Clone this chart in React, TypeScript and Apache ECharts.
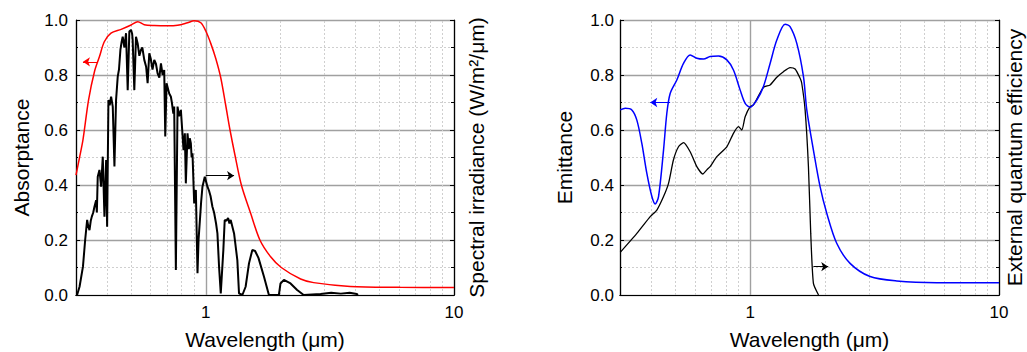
import React, { useEffect, useRef } from "react";
import * as echarts from "echarts";

// ---------- data (wavelength in µm, normalized value) ----------
const absorptance: [number, number][] = [
  [0.3, 0.436], [0.31, 0.5], [0.32, 0.564], [0.337, 0.709], [0.356, 0.812], [0.373, 0.867],
  [0.39, 0.921], [0.415, 0.952], [0.456, 0.966], [0.5, 0.982], [0.532, 0.994], [0.565, 0.983],
  [0.62, 0.98], [0.7, 0.979], [0.77, 0.981], [0.844, 0.99], [0.898, 0.997], [0.955, 0.99],
  [1.0, 0.96], [1.047, 0.915], [1.097, 0.86], [1.149, 0.79], [1.203, 0.69], [1.252, 0.6],
  [1.31, 0.51], [1.391, 0.4], [1.516, 0.297], [1.652, 0.2], [1.825, 0.139], [2.014, 0.1],
  [2.41, 0.058], [2.72, 0.045], [3.82, 0.031], [6.07, 0.028], [10, 0.027],
];

const solarSpectrum: [number, number][] = [
  [0.303, 0], [0.31, 0.03], [0.32, 0.103], [0.3266, 0.2], [0.3327, 0.273], [0.336, 0.25], [0.34, 0.236],
  [0.344, 0.27], [0.3474, 0.285], [0.352, 0.3], [0.356, 0.321], [0.3616, 0.345], [0.364, 0.3], [0.367, 0.43],
  [0.3729, 0.455], [0.3787, 0.394], [0.3846, 0.503], [0.3906, 0.285], [0.3967, 0.491], [0.4004, 0.248],
  [0.4053, 0.709], [0.41, 0.69], [0.4155, 0.721], [0.4219, 0.685], [0.4285, 0.467], [0.435, 0.709],
  [0.4418, 0.794], [0.447, 0.82], [0.4529, 0.891], [0.458, 0.92], [0.4627, 0.939], [0.47, 0.9],
  [0.4772, 0.952], [0.4846, 0.745], [0.4921, 0.958], [0.4997, 0.964], [0.505, 0.95], [0.5075, 0.927],
  [0.5153, 0.745], [0.5234, 0.939], [0.5315, 0.915], [0.54, 0.87], [0.548, 0.891], [0.555, 0.9],
  [0.5652, 0.855], [0.575, 0.83], [0.583, 0.77], [0.592, 0.879], [0.6, 0.86], [0.61, 0.82],
  [0.62, 0.855], [0.63, 0.84], [0.6395, 0.806], [0.65, 0.79], [0.6597, 0.842], [0.67, 0.8],
  [0.68, 0.818], [0.6866, 0.576], [0.695, 0.77], [0.7123, 0.733], [0.7235, 0.721], [0.73, 0.7],
  [0.74, 0.66], [0.746, 0.685], [0.7576, 0.091], [0.7695, 0.685], [0.78, 0.65], [0.7936, 0.673],
  [0.8135, 0.527], [0.8235, 0.588], [0.831, 0.406], [0.8441, 0.588], [0.855, 0.53], [0.862, 0.57],
  [0.8706, 0.552], [0.877, 0.5], [0.884, 0.515], [0.898, 0.333], [0.912, 0.382], [0.926, 0.079],
  [0.935, 0.2], [0.949, 0.285], [0.958, 0.34], [0.9696, 0.394], [0.9908, 0.43], [1.0155, 0.394],
  [1.03, 0.38], [1.045, 0.36], [1.0636, 0.321], [1.08, 0.3], [1.1, 0.26], [1.114, 0.224],
  [1.131, 0.103], [1.149, 0.006], [1.177, 0.164], [1.192, 0.273], [1.21, 0.27], [1.23, 0.28],
  [1.245, 0.26], [1.26, 0.273], [1.3, 0.224], [1.34, 0.127], [1.361, 0.006], [1.404, 0],
  [1.447, 0.03], [1.493, 0.115], [1.54, 0.164], [1.58, 0.16], [1.63, 0.135], [1.715, 0.067],
  [1.796, 0], [1.97, 0], [2.0, 0.042], [2.064, 0.055], [2.195, 0.042], [2.334, 0.018],
  [2.48, 0], [2.9, 0.004], [3.2, 0.008], [3.5, 0.005], [3.8, 0.008], [4.06, 0.004], [4.1, 0],
];

const emittance: [number, number][] = [
  [0.3006, 0.673], [0.315, 0.679], [0.3347, 0.673], [0.3506, 0.636], [0.367, 0.552], [0.3846, 0.442],
  [0.4029, 0.358], [0.4155, 0.331], [0.4285, 0.358], [0.4488, 0.527], [0.4627, 0.661], [0.4772, 0.733],
  [0.5075, 0.782], [0.5398, 0.842], [0.5742, 0.873], [0.6107, 0.861], [0.6496, 0.858], [0.6908, 0.867],
  [0.7463, 0.869], [0.806, 0.855], [0.857, 0.818], [0.912, 0.745], [0.955, 0.697], [1.0, 0.683],
  [1.064, 0.709], [1.131, 0.758], [1.203, 0.842], [1.28, 0.927], [1.382, 0.985], [1.447, 0.976],
  [1.54, 0.915], [1.638, 0.794], [1.689, 0.673], [1.796, 0.527], [1.91, 0.394], [2.032, 0.297],
  [2.228, 0.188], [2.521, 0.115], [3.033, 0.067], [3.882, 0.051], [5.62, 0.045], [10, 0.045],
];

const quantumEfficiency: [number, number][] = [
  [0.3006, 0.155], [0.3506, 0.224], [0.3967, 0.285], [0.4219, 0.309], [0.4488, 0.358], [0.47, 0.406],
  [0.4918, 0.491], [0.5154, 0.539], [0.5398, 0.554], [0.5742, 0.521], [0.6107, 0.467], [0.6457, 0.44],
  [0.6695, 0.455], [0.6908, 0.467], [0.7347, 0.503], [0.806, 0.539], [0.857, 0.588], [0.8977, 0.612],
  [0.926, 0.6], [0.955, 0.648], [1.0, 0.685], [1.031, 0.691], [1.131, 0.755], [1.203, 0.764],
  [1.28, 0.792], [1.361, 0.812], [1.447, 0.827], [1.516, 0.822], [1.588, 0.788], [1.612, 0.77],
  [1.663, 0.673], [1.715, 0.467], [1.752, 0.224], [1.796, 0.042], [1.883, 0],
];

// arrows: [fromX, toX, y]
const absorptanceArrow = [0.367, 0.32, 0.848];
const spectrumArrow = [1.0, 1.3, 0.434];
const emittanceArrow = [0.477, 0.397, 0.7];
const eqeArrow = [1.796, 2.06, 0.103];

const minorGridX = [0.4, 0.5, 0.6, 0.7, 0.8, 0.9, 2, 3, 4, 5, 6, 7, 8, 9];
const yTicks = { min: 0, max: 1, interval: 0.2 };
const xRange = { min: 0.3, max: 10 };

const FONT = "'Liberation Sans', Arial, sans-serif";

export default function App() {
  const ref = useRef<HTMLDivElement>(null);
  useEffect(() => {
    document.body.style.margin = "0";
    const chart = echarts.init(ref.current!, undefined, { renderer: "svg" });

    const xBottom = (gi: number) => ({
      type: "log",
      gridIndex: gi,
      min: xRange.min,
      max: xRange.max,
      logBase: 10,
      position: "bottom",
      name: "Wavelength (μm)",
      nameLocation: "middle",
      nameGap: 34,
      nameTextStyle: { fontSize: 21, color: "#000", fontFamily: FONT },
      axisLine: { show: true, lineStyle: { color: "#000", width: 1.2 } },
      axisTick: { show: false },
      axisLabel: {
        fontSize: 17,
        color: "#000",
        fontFamily: FONT,
        margin: 9,
        showMinLabel: true,
        showMaxLabel: true,
        formatter: (v: number) =>
          Math.abs(v - 1) < 1e-6 ? "1" : Math.abs(v - 10) < 1e-6 ? "10" : "",
      },
      splitLine: { show: true, lineStyle: { color: "#a0a0a0", width: 1.4 } },
      minorTick: { show: false },
      minorSplitLine: { show: false },
    });
    const xTop = (gi: number) => ({
      type: "log",
      gridIndex: gi,
      min: xRange.min,
      max: xRange.max,
      position: "top",
      axisLine: { show: true, lineStyle: { color: "#000", width: 1.2 } },
      axisTick: { show: false },
      axisLabel: { show: false },
      splitLine: { show: false },
    });
    const yLeft = (gi: number, name: string, gap: number, margin: number) => ({
      type: "value",
      gridIndex: gi,
      position: "left",
      min: yTicks.min,
      max: yTicks.max,
      interval: yTicks.interval,
      name,
      nameLocation: "middle",
      nameRotate: 90,
      nameGap: gap,
      nameTextStyle: { fontSize: 21, color: "#000", fontFamily: FONT },
      axisLine: { show: true, lineStyle: { color: "#000", width: 1.2 } },
      axisTick: { show: true, inside: true, length: 4, lineStyle: { color: "#000" } },
      minorTick: { show: true, splitNumber: 2, length: 2, lineStyle: { color: "#000" } },
      axisLabel: {
        fontSize: 17,
        color: "#000",
        fontFamily: FONT,
        margin,
        formatter: (v: number) => v.toFixed(1),
      },
      splitLine: { show: true, lineStyle: { color: "#a0a0a0", width: 1.4 } },
      minorSplitLine: { show: true, lineStyle: { color: "#cfcfcf", width: 1, type: [2, 2] } },
    });
    const yRight = (gi: number, name: string, gap: number) => ({
      type: "value",
      gridIndex: gi,
      position: "right",
      min: yTicks.min,
      max: yTicks.max,
      interval: yTicks.interval,
      name,
      nameLocation: "middle",
      nameRotate: 90,
      nameGap: gap,
      nameTextStyle: { fontSize: 21, color: "#000", fontFamily: FONT },
      axisLine: { show: true, lineStyle: { color: "#000", width: 1.2 } },
      axisTick: { show: true, inside: true, length: 4, lineStyle: { color: "#000" } },
      minorTick: { show: true, splitNumber: 2, length: 3, lineStyle: { color: "#000" } },
      axisLabel: { show: false },
      splitLine: { show: false },
    });

    const gridMarks = {
      silent: true,
      z: 1,
      symbol: ["none", "none"],
      label: { show: false },
      lineStyle: { color: "#cfcfcf", width: 1, type: [2, 2] },
      data: minorGridX.map((v) => ({ xAxis: v })),
    };
    const arrowMark = (a: number[], color: string) => ({
      silent: true,
      symbol: ["none", "arrow"],
      symbolSize: 7,
      label: { show: false },
      lineStyle: { color, width: 1, type: "solid" },
      data: [[{ coord: [a[0], a[2]] }, { coord: [a[1], a[2]] }]],
    });

    chart.setOption({
      animation: false,
      backgroundColor: "#fff",
      textStyle: { fontFamily: FONT },
      grid: [
        { left: 76, right: 573, top: 20, bottom: 57, containLabel: false, outerBoundsMode: "none" },
        { left: 620, right: 28, top: 20, bottom: 57, containLabel: false, outerBoundsMode: "none" },
      ],
      xAxis: [xBottom(0), xTop(0), xBottom(1), xTop(1)],
      yAxis: [
        yLeft(0, "Absorptance", 44, 8),
        yRight(0, "Spectral irradiance (W/m²/μm)", 12),
        yLeft(1, "Emittance", 45, 6),
        yRight(1, "External quantum efficiency", 5),
      ],
      series: [
        {
          type: "line",
          name: "Absorptance",
          xAxisIndex: 0,
          yAxisIndex: 0,
          data: absorptance,
          smooth: 0.3,
          showSymbol: false,
          symbol: "none",
          lineStyle: { color: "#ff0000", width: 1.5 },
          z: 3,
          markLine: gridMarks,
        },
        {
          type: "line",
          name: "Spectral irradiance",
          xAxisIndex: 0,
          yAxisIndex: 1,
          data: solarSpectrum,
          showSymbol: false,
          symbol: "none",
          lineStyle: { color: "#000", width: 2 },
          z: 2,
          markLine: arrowMark(spectrumArrow, "#000"),
        },
        {
          type: "line",
          name: "Absorptance arrow",
          xAxisIndex: 0,
          yAxisIndex: 0,
          data: [],
          markLine: arrowMark(absorptanceArrow, "#ff0000"),
        },
        {
          type: "line",
          name: "Emittance",
          xAxisIndex: 2,
          yAxisIndex: 2,
          data: emittance,
          smooth: 0.3,
          showSymbol: false,
          symbol: "none",
          lineStyle: { color: "#0000ff", width: 1.5 },
          z: 3,
          markLine: gridMarks,
        },
        {
          type: "line",
          name: "EQE",
          xAxisIndex: 2,
          yAxisIndex: 3,
          data: quantumEfficiency,
          smooth: 0.2,
          showSymbol: false,
          symbol: "none",
          lineStyle: { color: "#000", width: 1.3 },
          z: 2,
          markLine: arrowMark(eqeArrow, "#000"),
        },
        {
          type: "line",
          name: "Emittance arrow",
          xAxisIndex: 2,
          yAxisIndex: 2,
          data: [],
          markLine: arrowMark(emittanceArrow, "#0000ff"),
        },
      ],
    });
    return () => chart.dispose();
  }, []);
  return <div ref={ref} style={{ width: 1027, height: 352 }} />;
}
